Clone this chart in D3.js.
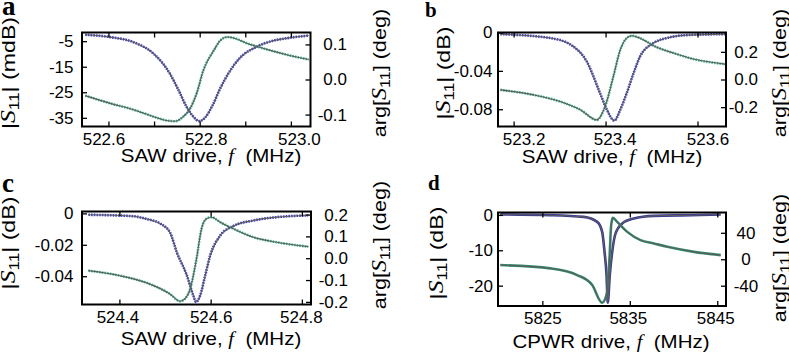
<!DOCTYPE html>
<html>
<head>
<meta charset="utf-8">
<script src="https://cdn.jsdelivr.net/npm/d3@7"></script>
<style>
body { margin: 0; background: #fff; }
svg { display: block; }
</style>
</head>
<body>
<script>
// values: [frequency (MHz), value]
// panel a: |S11| in mdB, arg in deg
const magA = [[522.549,-2.5],[522.604,-3.4],[522.655,-5.4],[522.699,-9.9],[522.735,-17.8],[522.754,-24.3],
  [522.771,-30.6],[522.786,-34.5],[522.799,-36.3],[522.812,-34.9],[522.828,-30.2],[522.845,-23.5],
  [522.867,-16.5],[522.889,-11.4],[522.926,-7.1],[522.955,-5.1],[522.993,-3.8],[523.039,-2.8]];
const phaseA = [[522.549,-0.046],[522.604,-0.068],[522.655,-0.086],[522.699,-0.106],[522.724,-0.116],
  [522.746,-0.119],[522.764,-0.106],[522.779,-0.083],[522.794,-0.037],[522.808,0.026],[522.831,0.083],
  [522.845,0.111],[522.860,0.121],[522.878,0.117],[522.900,0.105],[522.926,0.094],[522.955,0.083],
  [522.993,0.070],[523.039,0.057]];

// panel b: |S11| in dB
const magB = [[523.171,-0.0017],[523.280,-0.0058],[523.330,-0.0146],[523.359,-0.0302],[523.388,-0.0632],
  [523.403,-0.0806],[523.419,-0.0918],[523.432,-0.0806],[523.446,-0.0632],[523.461,-0.0423],
  [523.475,-0.0250],[523.504,-0.0111],[523.533,-0.0058],[523.577,-0.0027],[523.660,-0.0017]];
const phaseB = [[523.171,-0.075],[523.243,-0.111],[523.301,-0.159],[523.345,-0.219],[523.381,-0.292],
  [523.399,-0.195],[523.417,0.022],[523.432,0.215],[523.446,0.299],[523.457,0.316],[523.475,0.299],
  [523.508,0.239],[523.548,0.191],[523.591,0.148],[523.660,0.111]];

// panel c
const magC = [[524.332,-0.0009],[524.431,-0.0018],[524.460,-0.0036],[524.489,-0.0064],[524.511,-0.0122],
  [524.526,-0.0249],[524.548,-0.0396],[524.562,-0.0523],[524.568,-0.0564],[524.577,-0.0523],
  [524.588,-0.0396],[524.599,-0.0268],[524.621,-0.0141],[524.650,-0.0080],[524.694,-0.0045],
  [524.745,-0.0024],[524.814,-0.0013]];
const phaseC = [[524.332,-0.057],[524.401,-0.080],[524.460,-0.113],[524.511,-0.164],[524.533,-0.197],
  [524.544,-0.185],[524.555,-0.141],[524.569,-0.003],[524.580,0.135],[524.591,0.181],[524.602,0.188],
  [524.621,0.165],[524.650,0.135],[524.694,0.096],[524.745,0.073],[524.814,0.053]];

// panel d: CPWR
const magD = [[5820.19,0.12],[5825.92,-0.08],[5829.73,-0.56],[5831.27,-1.97],[5831.84,-4.79],[5832.11,-10.43],
  [5832.34,-17.0],[5832.48,-24.8],[5832.71,-17.0],[5832.99,-10.43],[5833.37,-5.24],[5834.13,-2.42],
  [5835.46,-1.01],[5837.75,-0.28],[5841.96,-0.08],[5845.39,0.12]];
const phaseD = [[5820.19,-8.8],[5825.92,-13.8],[5828.98,-23.9],[5830.70,-39.0],[5831.84,-65.7],[5832.42,-49.1],
  [5832.68,1.3],[5832.87,51.5],[5833.06,62.6],[5833.56,56.5],[5834.71,41.4],[5836.23,28.9],
  [5837.75,23.9],[5839.29,18.8],[5842.34,11.2],[5845.39,6.2]];

// ticks
const xTicksA = [522.6, 522.8, 523.0], xMinorA = [522.7, 522.9], xLabelsA = ["522.6", "522.8", "523.0"];
const yTicksA = [-5, -15, -25, -35], yLabelsA = ["-5", "-15", "-25", "-35"];
const rTicksA = [0.1, 0, -0.1], rLabelsA = ["0.1", "0.0", "-0.1"];
const xTicksB = [523.2, 523.4, 523.6], xLabelsB = ["523.2", "523.4", "523.6"];
const yTicksB = [0, -0.04, -0.08], yLabelsB = ["0", "-0.04", "-0.08"];
const rTicksB = [0.2, 0, -0.2], rLabelsB = ["0.2", "0.0", "-0.2"];
const xTicksC = [524.4, 524.6, 524.8], xLabelsC = ["524.4", "524.6", "524.8"];
const yTicksC = [0, -0.02, -0.04], yLabelsC = ["0", "-0.02", "-0.04"];
const rTicksC = [0.2, 0.1, 0, -0.1, -0.2], rLabelsC = ["0.2", "0.1", "0.0", "-0.1", "-0.2"];
const xTicksD = [5825, 5835, 5845], xLabelsD = ["5825", "5835", "5845"];
const yTicksD = [0, -10, -20], yLabelsD = ["0", "-10", "-20"];
const rTicksD = [40, 0, -40], rLabelsD = ["40", "0", "-40"];

const sans = "'Liberation Sans', Arial, sans-serif";
const serif = "'Liberation Serif', 'Times New Roman', serif";

let svg = d3.select("body").append("svg")
    .attr("width", 789)
    .attr("height", 357);

const panels = [
  { name: "a", box: [82, 32.5, 310.5, 126.5], xDom: [522.542, 523.043], yDom: [-38.4, -1.6], rDom: [-0.134, 0.134],
    mag: magA, phase: phaseA, xt: xTicksA, xm: xMinorA, xl: xLabelsA, yt: yTicksA, yl: yLabelsA, rt: rTicksA, rl: rLabelsA,
    unit: "mdB", drive: "SAW", rAnchor: "end", rX: 347, lX: 73.5, xOff: [-5, 6, 8], xLab: [211, 162],
    letter: [2, 15, 27], ylab: [15, 73], rlab: [386, 73], dense: false },
  { name: "b", box: [498, 32.5, 726, 126.5], xDom: [523.166, 523.662], yDom: [-0.098, 0], rDom: [-0.34, 0.34],
    mag: magB, phase: phaseB, xt: xTicksB, xm: [], xl: xLabelsB, yt: yTicksB, yl: yLabelsB, rt: rTicksB, rl: rLabelsB,
    unit: "dB", drive: "SAW", rAnchor: "end", rX: 758, lX: 492.5, xOff: [10, 9, 10], xLab: [612, 162.5],
    letter: [425, 17, 21], ylab: [450, 73], rlab: [786, 73], dense: false },
  { name: "c", box: [82, 211.5, 311, 304.5], xDom: [524.318, 524.82], yDom: [-0.058, 0.0012], rDom: [-0.212, 0.214],
    mag: magC, phase: phaseC, xt: xTicksC, xm: [], xl: xLabelsC, yt: yTicksC, yl: yLabelsC, rt: rTicksC, rl: rLabelsC,
    unit: "dB", drive: "SAW", rAnchor: "end", rX: 348, lX: 73.5, xOff: [-2, 0, -1], xLab: [211, 344.5],
    letter: [2, 192, 27], ylab: [15, 243], rlab: [386, 245], dense: false },
  { name: "d", box: [498, 212.5, 726, 306], xDom: [5819.93, 5846.0], yDom: [-25.75, 0.68], rDom: [-70.7, 70.7],
    mag: magD, phase: phaseD, xt: xTicksD, xm: [], xl: xLabelsD, yt: yTicksD, yl: yLabelsD, rt: rTicksD, rl: rLabelsD,
    unit: "dB", drive: "CPWR", rAnchor: "middle", rX: 746, lX: 493, xOff: [0, -2, -2], xLab: [611, 347.5],
    letter: [428, 190, 21], ylab: [443, 253], rlab: [786, 258], dense: true }
];

panels.forEach(drawPanel);

function drawPanel(p) {
    const [left, top, right, bottom] = p.box;
    const g = svg.append("g");

    const x = d3.scaleLinear().domain(p.xDom).range([left, right]);
    const y = d3.scaleLinear().domain(p.yDom).range([bottom, top]);
    const yR = d3.scaleLinear().domain(p.rDom).range([bottom, top]);

    g.append("clipPath").attr("id", "clip-" + p.name)
      .append("rect").attr("x", left).attr("y", top).attr("width", right - left).attr("height", bottom - top);

    const plot = g.append("g").attr("clip-path", `url(#clip-${p.name})`);
    const magLine = d3.line().x(d => x(d[0])).y(d => y(d[1])).curve(d3.curveMonotoneX);
    const phaseLine = d3.line().x(d => x(d[0])).y(d => yR(d[1])).curve(d3.curveMonotoneX);

    // measured points (dotted) then the fit on top
    plot.append("path").attr("d", magLine(p.mag))
        .attr("fill", "none").attr("stroke", p.dense ? "#34349c" : "#3c3cd2")
        .attr("stroke-width", 2.6).attr("stroke-dasharray", p.dense ? null : "1.6 1.1");
    plot.append("path").attr("d", phaseLine(p.phase))
        .attr("fill", "none").attr("stroke", p.dense ? "#2f9070" : "#3dbb8c")
        .attr("stroke-width", 2.6).attr("stroke-dasharray", p.dense ? null : "1.6 1.1");
    plot.append("path").attr("d", magLine(p.mag))
        .attr("fill", "none").attr("stroke", "#5c5c5c").attr("stroke-width", 1.1);
    plot.append("path").attr("d", phaseLine(p.phase))
        .attr("fill", "none").attr("stroke", "#5c5c5c").attr("stroke-width", 1.1);

    // axes, ticks pointing inwards
    const bAxis = g.append("g").attr("transform", `translate(0,${bottom})`)
        .call(d3.axisBottom(x).tickValues(p.xt).tickFormat((d, i) => p.xl[i]).tickSize(-5).tickPadding(6));
    g.append("g").attr("transform", `translate(0,${bottom})`)
        .call(d3.axisBottom(x).tickValues(p.xm).tickFormat("").tickSize(-5));
    g.append("g").attr("transform", `translate(0,${top})`)
        .call(d3.axisTop(x).tickValues(p.xt.concat(p.xm)).tickFormat("").tickSize(-5));
    const lAxis = g.append("g").attr("transform", `translate(${left},0)`)
        .call(d3.axisLeft(y).tickValues(p.yt).tickFormat((d, i) => p.yl[i]).tickSize(-5));
    const rAxis = g.append("g").attr("transform", `translate(${right},0)`)
        .call(d3.axisRight(yR).tickValues(p.rt).tickFormat((d, i) => p.rl[i]).tickSize(-5));

    g.selectAll(".domain").remove();
    g.selectAll(".tick line").attr("stroke", "#000").attr("stroke-width", 1.3);
    g.selectAll(".tick text").attr("font-size", 17).attr("font-family", sans).attr("fill", "#000");
    bAxis.selectAll(".tick text").attr("dx", (d, i) => p.xOff[i]);
    lAxis.selectAll(".tick text").attr("x", p.lX - left).attr("text-anchor", "end");
    rAxis.selectAll(".tick text").attr("x", p.rX - right).attr("text-anchor", p.rAnchor);

    g.append("rect").attr("x", left).attr("y", top).attr("width", right - left).attr("height", bottom - top)
        .attr("fill", "none").attr("stroke", "#000").attr("stroke-width", 2);

    // panel letter
    g.append("text").attr("x", p.letter[0]).attr("y", p.letter[1])
        .attr("font-family", serif).attr("font-weight", "bold").attr("font-size", p.letter[2]).text(p.name);

    // x label
    const xl = g.append("text").attr("transform", `translate(${p.xLab[0]},${p.xLab[1]}) scale(1.14,1)`)
        .attr("text-anchor", "middle").attr("font-family", sans).attr("font-size", 18);
    xl.append("tspan").text(p.drive + " drive, ");
    xl.append("tspan").attr("font-family", serif).attr("font-style", "italic").text("f");
    xl.append("tspan").text("\u00a0 (MHz)");

    // left y label
    const yl = g.append("text").attr("transform", `translate(${p.ylab[0]},${p.ylab[1]}) rotate(-90) scale(1.22,1)`)
        .attr("text-anchor", "middle").attr("font-family", sans).attr("font-size", 19);
    yl.append("tspan").text("|");
    yl.append("tspan").attr("font-family", serif).attr("font-style", "italic").attr("font-size", 21).text("S");
    yl.append("tspan").attr("font-size", 14).attr("dy", 4).text("11");
    yl.append("tspan").attr("dy", -4).text("| (" + p.unit + ")");

    // right y label
    const rl = g.append("text").attr("transform", `translate(${p.rlab[0]},${p.rlab[1]}) rotate(-90) scale(1.14,1)`)
        .attr("text-anchor", "middle").attr("font-family", sans).attr("font-size", 19);
    rl.append("tspan").text("arg[");
    rl.append("tspan").attr("font-family", serif).attr("font-style", "italic").attr("font-size", 21).text("S");
    rl.append("tspan").attr("font-size", 14).attr("dy", 4).text("11");
    rl.append("tspan").attr("dy", -4).text("] (deg)");
}
</script>
</body>
</html>
